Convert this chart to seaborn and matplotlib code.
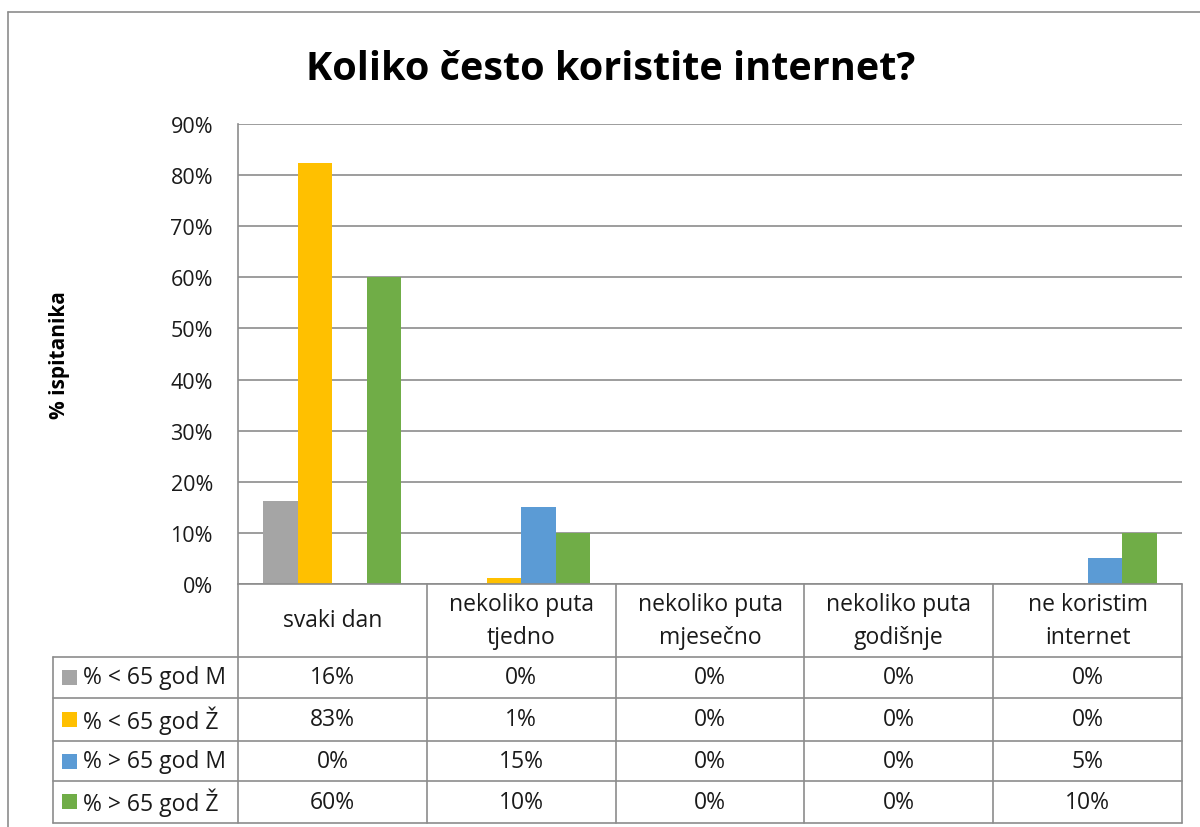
import matplotlib
matplotlib.use("Agg")
import matplotlib.pyplot as plt
from matplotlib.patches import Rectangle
import seaborn as sns
import pandas as pd

# data
categories = ["svaki dan", "nekoliko puta\ntjedno", "nekoliko puta\nmjesečno",
              "nekoliko puta\ngodišnje", "ne koristim\ninternet"]
series = ["% < 65 god M", "% < 65 god Ž", "% > 65 god M", "% > 65 god Ž"]
under65_m = [16.2, 0.0, 0.0, 0.0, 0.0]
under65_f = [82.4, 1.2, 0.0, 0.0, 0.0]
over65_m = [0.0, 15.0, 0.0, 0.0, 5.0]
over65_f = [60.0, 10.0, 0.0, 0.0, 10.0]
table_labels = [
    ["16%", "0%", "0%", "0%", "0%"],
    ["83%", "1%", "0%", "0%", "0%"],
    ["0%", "15%", "0%", "0%", "5%"],
    ["60%", "10%", "0%", "0%", "10%"],
]
colors = ["#a5a5a5", "#ffc000", "#5b9bd5", "#70ad47"]
yticks = [0, 10, 20, 30, 40, 50, 60, 70, 80, 90]

sns.set_theme(style="white")
plt.rcParams["font.family"] = ["Open Sans", "DejaVu Sans"]

rows = []
for name, vals in zip(series, [under65_m, under65_f, over65_m, over65_f]):
    for cat, v in zip(categories, vals):
        rows.append({"cat": cat, "series": name, "value": v})
df = pd.DataFrame(rows)

W, H = 1200, 828
fig = plt.figure(figsize=(W / 100, H / 100), dpi=100)
fig.patch.set_facecolor("white")

# pixel layout
px_left, px_right, px_top, px_bottom = 238, 1182, 125, 585

ax = fig.add_axes([px_left / W, 1 - px_bottom / H,
                   (px_right - px_left) / W, (px_bottom - px_top) / H])
sns.barplot(data=df, x="cat", y="value", hue="series", order=categories,
            hue_order=series, palette=colors, width=0.73, dodge=True,
            saturation=1, linewidth=0, ax=ax, legend=False)
ax.set_xlim(-0.5, len(categories) - 0.5)
ax.set_ylim(0, 90)
ax.set_yticks(yticks)
ax.set_yticklabels([f"{t}%" for t in yticks], fontsize=15.5, color="#1a1a1a")
ax.tick_params(axis="y", length=0, pad=18)
ax.set_xticks([])
ax.set_xlabel("")
ax.set_ylabel("")
ax.yaxis.grid(True, color="#8c8c8c", linewidth=1.2)
ax.set_axisbelow(True)
for s in ["top", "right", "bottom"]:
    ax.spines[s].set_visible(False)
ax.spines["left"].set_color("#8c8c8c")
ax.spines["left"].set_linewidth(1.2)

# overlay axes in pixel coords for table, title and frame
ov = fig.add_axes([0, 0, 1, 1], zorder=5)
ov.set_xlim(0, W)
ov.set_ylim(H, 0)
ov.axis("off")
ov.patch.set_alpha(0)

line_kw = dict(color="#8c8c8c", linewidth=1.2)
# chart frame
ov.plot([8, 8], [13, H], **line_kw)
ov.plot([8, W], [13, 13], **line_kw)

col_x = [px_left + i * (px_right - px_left) / len(categories) for i in range(len(categories) + 1)]
row_y = [585, 658, 699, 742, 782, 824]
tab_left = 53
fs = 16.5

# header row
ov.plot([px_left, px_right], [row_y[0], row_y[0]], **line_kw)
for x in col_x:
    ov.plot([x, x], [row_y[0], row_y[-1]], **line_kw)
ov.plot([tab_left, tab_left], [row_y[1], row_y[-1]], **line_kw)
for y in row_y[1:]:
    ov.plot([tab_left, px_right], [y, y], **line_kw)

for i, cat in enumerate(categories):
    cx = (col_x[i] + col_x[i + 1]) / 2
    ov.text(cx, (row_y[0] + row_y[1]) / 2, cat, ha="center", va="center",
            fontsize=fs, linespacing=1.5, color="#1a1a1a")

for r, name in enumerate(series):
    cy = (row_y[r + 1] + row_y[r + 2]) / 2
    ov.add_patch(Rectangle((62, cy - 7.5), 15, 15, color=colors[r], linewidth=0))
    ov.text(83, cy, name, ha="left", va="center", fontsize=fs, color="#1a1a1a")
    for i in range(len(categories)):
        cx = (col_x[i] + col_x[i + 1]) / 2
        ov.text(cx, cy, table_labels[r][i], ha="center", va="center",
                fontsize=fs, color="#1a1a1a")

ov.text(611, 70, "Koliko često koristite internet?", ha="center", va="center",
        fontsize=28.5, fontweight="bold", color="#000000")
ov.text(60, 355, "% ispitanika", ha="center", va="center", rotation=90,
        fontsize=15, fontweight="bold", color="#000000")

fig.savefig("out.png", dpi=100)
